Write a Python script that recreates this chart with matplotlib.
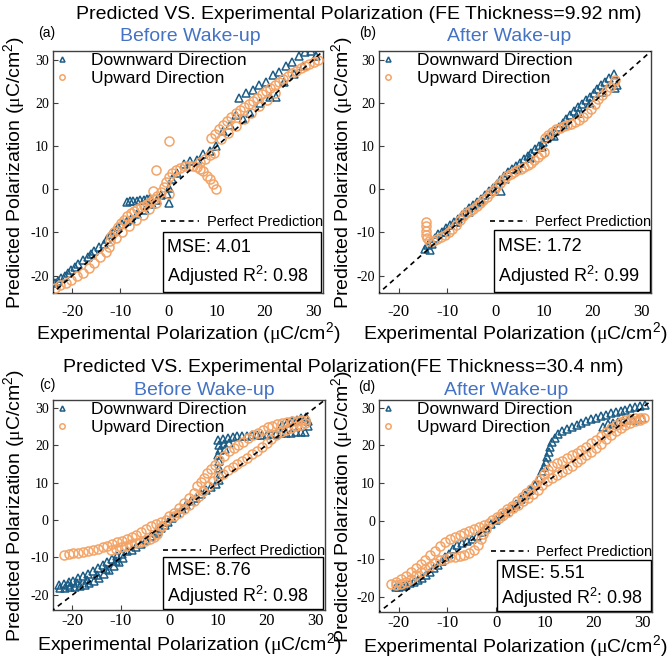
import matplotlib
matplotlib.use('Agg')
import matplotlib.pyplot as plt
from matplotlib.patches import Rectangle

plt.rcParams['font.family'] = ['Liberation Sans', 'DejaVu Sans']
plt.rcParams['mathtext.fontset'] = 'custom'
plt.rcParams['mathtext.rm'] = 'Liberation Sans'
plt.rcParams['mathtext.it'] = 'Liberation Sans:italic'
plt.rcParams['mathtext.sf'] = 'Liberation Serif'
plt.rcParams['axes.unicode_minus'] = False

# ============================================================
# Data, experimental vs predicted (uC/cm^2)
# ============================================================

# (a) 9.92 nm, before wake-up
a_down_x = [29.5, 28.4, 27.0, 25.7, 24.3, 22.9, 21.6, 20.2, 18.8, 17.5, 16.1, 14.7,
            30.5, 28.0, 26.0, 24.0, 22.3, 21.0, 19.0, 17.0, 15.5, 14.0, 12.7, 11.3,
            9.9, 8.6, 7.2, 5.8, 4.5, 3.1, 1.7, 0.7, 0.0, -0.3, 0.0,
            -3.8, -4.5, -5.2, -5.9, -6.6, -7.3, -8.0, -8.7,
            -1.5, -2.5, -3.5,
            -5.0, -6.5, -7.8, -8.6, -9.6, -10.6, -11.3, -12.0, -12.7, -13.4, -14.4, -15.4,
            -16.1, -16.8, -17.8, -18.8, -19.5, -20.2, -20.9, -21.6, -22.3, -22.9, -23.5]
a_down_y = [32.0, 31.9, 30.8, 29.6, 28.5, 27.3, 26.5, 25.0, 24.2, 23.1, 22.3, 21.2,
            30.8, 28.6, 26.7, 24.8, 21.5, 21.4, 20.0, 17.8, 16.2, 17.3, 15.0, 13.5,
            10.0, 8.8, 8.1, 6.9, 6.5, 5.8, 3.8, 2.3, 0.4, -1.2, -3.1,
            -2.0, -2.3, -2.4, -2.5, -2.6, -2.7, -2.8, -2.9,
            -1.4, -2.4, -3.4,
            -4.8, -5.8, -6.8, -7.3, -8.1, -8.8, -9.6, -10.4, -11.6, -12.7, -13.3, -14.2,
            -15.0, -15.8, -16.5, -17.3, -18.0, -18.8, -19.3, -20.0, -20.6, -21.2, -21.8]
a_up_x = [-23.5, -22.5, -21.3, -20.2, -19.0, -17.8, -16.6, -15.4, -14.2, -13.0, -12.3,
          -12.2, -12.0,
          -11.4, -10.6, -9.9, -9.2, -8.6, -7.9, -7.2, -6.5, -5.8, -5.1, -4.5, -3.8, -3.1, -2.4,
          -11.0, -9.6, -8.2, -6.8, -5.4, -4.0, -2.6,
          -1.5, -1.0, -0.5, 0.1, 0.8, 1.6, 2.4, 3.3, 4.2, 5.1, 5.9, 6.6, 7.2, 7.9, 8.6, 9.3, 9.9,
          6.6, 7.6, 8.6, 9.4,
          0.0, -2.6, -3.2, 0.1,
          8.9, 9.7, 10.5, 11.3, 12.1, 13.0, 13.9, 14.8, 15.7, 16.6, 17.5, 18.4, 19.3, 20.2,
          21.1, 22.0, 22.9, 23.8, 24.7, 25.6, 26.5, 27.4, 28.3, 29.2, 30.1, 31.0,
          10.8, 12.4, 14.0, 15.6, 17.2, 18.8, 20.4, 22.0]
a_up_y = [-23.0, -22.3, -21.7, -21.1, -20.2, -19.4, -18.3, -17.0, -15.8, -14.6, -13.3,
          -12.0, -10.8,
          -10.0, -8.8, -7.9, -7.0, -6.2, -5.5, -5.0, -4.6, -4.2, -3.9, -3.5, -2.9, -2.3, -1.5,
          -11.2, -9.9, -8.5, -7.1, -5.9, -4.6, -3.2,
          -0.6, 0.6, 1.8, 2.9, 3.8, 4.5, 5.0, 5.3, 5.4, 5.4, 5.2, 4.8, 4.2, 3.2, 2.3, 1.2, 0.1,
          6.4, 7.1, 7.9, 8.5,
          11.2, 4.4, -0.5, -1.2,
          11.9, 12.8, 14.0, 15.0, 15.9, 16.8, 17.6, 18.4, 19.1, 19.8, 20.5, 21.2, 22.0, 22.7,
          23.4, 24.1, 24.8, 25.5, 26.2, 26.9, 27.5, 28.1, 28.6, 29.1, 29.6, 30.0,
          11.6, 13.0, 14.6, 16.2, 17.7, 19.3, 20.8, 22.4]

# (b) 9.92 nm, after wake-up
b_down_x = [-14.6, -14.0, -13.3, -12.5, -11.8, -11.0, -10.2, -9.4, -8.6, -7.8, -7.0, -6.2,
            -5.4, -4.6, -3.8, -3.0, -2.2, -1.4, -0.6, 0.2, 1.0, 1.8, 2.6, 3.4, 4.2, 5.0,
            5.8, 6.6, 7.4, 8.2, 9.0, 9.8, 10.6, 11.4, 12.2, 13.0, 13.8, 14.6, 15.4, 16.2,
            17.0, 17.8, 18.6, 19.4, 20.2, 21.0, 21.8, 22.6, 23.4, 24.3, 25.0, 24.6, 1.2, -13.6,
            -13.0, -10.5, -8.0, -5.5, -3.0, -0.5, 2.0, 4.5, 7.0, 9.5, 12.0, 14.5, 17.0, 19.5, 22.0]
b_down_y = [-13.9, -12.9, -12.0, -11.2, -10.4, -9.8, -9.0, -8.3, -7.5, -6.8, -6.0, -5.2,
            -4.4, -3.7, -3.0, -2.2, -1.3, -0.5, 0.4, 1.3, 2.2, 3.1, 4.0, 4.8, 5.5, 6.2,
            7.0, 7.7, 8.5, 9.3, 10.1, 10.9, 11.8, 12.7, 13.6, 14.5, 15.4, 16.3, 17.2, 18.1,
            19.0, 19.8, 20.7, 21.5, 22.4, 23.2, 24.1, 24.9, 25.8, 26.7, 24.3, 23.5, -0.5, -14.1,
            -12.6, -10.0, -7.6, -5.2, -2.8, -0.3, 2.3, 4.7, 7.3, 9.8, 12.4, 14.9, 17.6, 20.1, 22.6]
b_up_x = [-14.4, -14.4, -14.4, -14.3, -14.2, -13.7, -12.9, -12.1, -11.3, -10.5, -9.7, -8.9,
          -8.1, -7.4, -6.7, -6.0, -5.3, -4.6, -3.9, -3.2, -2.5, -1.8, -1.1, -0.4, 0.3, 1.0,
          1.7, 2.4, 3.1, 3.8, 4.5, 5.2, 5.9, 6.6, 7.3, 8.0, 8.7, 9.4, 9.9,
          10.2, 10.9, 11.6, 12.4, 13.2, 14.0, 14.8, 15.6, 16.4, 17.2, 18.0, 18.8, 19.6,
          20.4, 21.2, 22.0, 22.8, 23.6, 24.3, 24.7]
b_up_y = [-7.6, -8.6, -9.6, -10.6, -11.4, -12.0, -12.0, -11.6, -11.1, -10.6, -10.0, -9.2,
          -8.2, -7.2, -6.3, -5.5, -5.0, -4.5, -3.9, -3.2, -2.5, -1.7, -0.9, -0.1, 0.7, 1.5,
          2.3, 3.0, 3.6, 4.1, 4.5, 4.8, 5.1, 5.6, 6.2, 6.9, 7.6, 8.2, 8.6,
          11.8, 12.6, 13.3, 13.9, 14.3, 14.6, 14.9, 15.2, 15.6, 16.1, 16.8, 17.7, 18.7,
          19.8, 20.9, 21.9, 22.9, 23.8, 24.6, 25.3]

# (c) 30.4 nm, before wake-up
c_down_x = [-22.8, -21.8, -20.8, -19.8, -18.8, -17.8, -16.8, -15.8, -14.8, -13.8, -12.8,
            -11.8, -10.8, -9.8, -8.8, -7.8,
            -22.5, -21.5, -20.5, -19.5, -18.5, -17.5, -16.5, -15.5, -14.5, -13.5, -12.5,
            -11.5, -10.5, -9.5,
            -21.0, -19.0, -17.0, -15.0, -13.0, -11.0,
            -6.8, -5.8, -4.8, -3.8, -2.8, -2.4, -1.7, -1.0, -0.3,
            0.5, 1.5, 2.5, 3.5, 4.5, 5.5, 6.5, 7.5, 8.5, 9.5, 10.2,
            10.4, 10.3, 10.2, 10.1,
            10.0, 11.0, 12.0, 13.0, 14.0, 10.2, 11.2, 12.2, 10.4, 11.4,
            15.0, 16.0, 17.0, 18.0, 19.0, 20.0, 21.0, 22.0, 23.0, 24.0, 25.0, 26.0, 27.0,
            28.0, 28.6, 28.6, 28.2, 27.2, 26.2, 25.2, 24.2, 23.2]
c_down_y = [-17.3, -17.0, -16.6, -16.2, -15.6, -15.0, -14.3, -13.6, -12.8, -12.0, -11.2,
            -10.4, -9.7, -9.0, -8.4, -7.9,
            -18.2, -18.1, -18.0, -17.8, -17.6, -17.3, -16.9, -16.3, -15.4, -14.5, -13.4,
            -12.2, -11.2, -10.2,
            -17.4, -16.8, -15.9, -14.6, -13.0, -11.0,
            -7.2, -6.3, -5.3, -4.3, -3.4, -3.0, -2.1, -1.4, -0.6,
            0.6, 1.8, 3.0, 4.0, 5.0, 6.0, 7.0, 8.0, 8.8, 9.6, 10.6,
            12.2, 14.0, 15.8, 17.4,
            21.4, 21.7, 21.9, 22.1, 22.3, 19.9, 20.2, 20.5, 18.6, 19.0,
            22.4, 22.5, 22.6, 22.7, 22.8, 22.8, 22.9, 23.0, 23.1, 23.2, 23.3, 23.4, 23.5,
            23.5, 25.0, 26.5, 27.5, 27.2, 26.8, 26.3, 25.8, 25.3]
c_up_x = [-21.8, -20.8, -19.8, -18.8, -17.8, -16.8, -15.8, -14.8, -13.8, -12.8, -11.8,
          -10.8, -9.8, -8.8, -7.8, -6.8, -5.8, -4.8, -3.8, -2.8, -1.8, -0.8,
          -12.0, -11.0, -10.0, -9.0, -8.0, -7.0, -6.0, -5.0, -4.0, -3.2, -2.6, -2.1, -1.6,
          0.0, 1.0, 2.0, 3.0, 4.0, 5.0, 5.7, 6.4, 7.1, 7.8, 8.5, 9.3, 10.2, 11.2, 12.2,
          13.2, 14.2, 15.2, 16.2, 17.2, 18.2, 19.2, 20.2, 21.2, 22.2, 23.2, 24.2, 25.2,
          26.2, 27.2, 28.0,
          28.0, 27.0, 26.0, 25.0, 24.0, 23.0, 22.0, 21.0, 20.0, 19.0, 18.0, 17.0, 16.0,
          15.0, 14.0, 13.0, 12.0, 11.0, 10.0, 9.0, 8.0, 7.0, 6.0, 5.0, 4.0, 3.0, 2.0, 1.0]
c_up_y = [-9.3, -9.1, -8.9, -8.7, -8.5, -8.2, -8.0, -7.7, -7.3, -6.9, -6.5,
          -6.0, -5.5, -5.0, -4.5, -3.9, -3.2, -2.5, -1.7, -1.1, -0.5, 0.1,
          -8.0, -7.7, -7.3, -6.9, -6.5, -6.1, -5.8, -5.5, -5.2, -4.6, -3.6, -2.5, -1.5,
          1.0, 2.0, 3.3, 4.5, 5.8, 7.3, 9.1, 10.1, 11.3, 12.5, 13.6, 14.8, 15.9, 17.2, 18.4,
          19.3, 20.1, 20.9, 21.8, 22.6, 23.3, 24.0, 24.7, 25.2, 25.6, 25.9, 26.1, 26.3,
          26.5, 26.6, 26.7,
          25.8, 25.4, 25.0, 24.6, 24.1, 23.4, 22.6, 21.6, 20.6, 19.5, 18.5, 17.5, 16.6,
          15.7, 14.9, 14.1, 13.3, 12.4, 11.5, 10.3, 9.0, 7.7, 6.4, 5.2, 4.1, 3.0, 2.0, 1.0]

# (d) 30.4 nm, after wake-up
d_down_x = [30.5, 29.5, 28.5, 27.5, 26.5, 25.5, 24.5, 23.5, 22.5, 21.5, 20.5, 19.5, 18.5,
            17.5, 16.5, 15.5, 14.5, 13.5, 12.7, 12.0, 11.5, 11.1, 10.8, 10.5, 10.2, 9.8, 9.4,
            30.0, 29.0, 28.0, 27.0, 26.0, 25.0, 24.0, 23.0, 22.0,
            8.8, 8.0, 7.0, 6.0, 5.0, 4.0, 3.0, 2.0, 1.0, 0.0, -1.0, -2.0, -3.0, -4.0, -5.0,
            -6.0, -7.0, -8.0, -8.8, -9.6, -10.4, -11.2, -12.0, -12.8, -13.6, -14.4, -15.2,
            -16.0, -16.8, -17.6, -18.4, -19.2, -20.0, -20.6]
d_down_y = [30.6, 30.4, 30.1, 29.8, 29.5, 29.2, 28.8, 28.5, 28.1, 27.7, 27.3, 26.9, 26.5,
            26.0, 25.5, 25.0, 24.4, 23.8, 23.0, 22.0, 20.8, 19.5, 18.2, 17.0, 15.7, 14.4, 13.2,
            27.2, 27.0, 26.8, 26.6, 26.4, 26.2, 26.0, 25.6, 25.0,
            11.5, 9.6, 8.2, 7.0, 5.8, 4.6, 3.5, 2.4, 1.3, 0.3, -0.8, -1.8, -2.8, -3.8, -4.7,
            -5.3, -5.7, -6.2, -7.4, -8.6, -9.6, -10.6, -11.6, -12.5, -13.4, -14.2, -14.9,
            -15.5, -16.0, -16.4, -16.8, -17.1, -17.3, -17.4]
d_up_x = [-21.5, -20.5, -19.5, -18.5, -17.5, -16.5, -15.5, -14.5, -13.5, -12.5, -11.5,
          -10.5, -9.5, -8.5, -7.5, -6.5, -5.5, -4.5, -3.5, -2.5, -1.5,
          -20.5, -19.5, -18.5, -17.5, -16.5, -15.5, -14.5, -13.5, -12.5, -11.5, -10.5,
          -9.5, -8.5, -7.5, -6.5, -5.5, -4.5, -3.8, -3.2, -2.6, -2.0,
          -0.8, 0.2, 1.2, 2.2, 3.2, 4.2, 5.2, 6.2, 7.2, 8.2, 9.0, 9.8, 10.6, 11.5, 12.5,
          13.5, 14.5, 15.5, 16.5, 17.5, 18.5, 19.5, 20.5, 21.5, 22.5, 23.5, 24.5, 25.5,
          26.5, 27.5, 28.5, 29.5, 30.3,
          29.5, 28.5, 27.5, 26.5, 25.5, 24.5, 23.5, 22.5, 21.5, 20.5, 19.5, 18.5, 17.5,
          16.5, 15.5, 14.5, 13.5, 12.5, 11.5, 10.5, 9.5, 8.5, 7.5, 6.5, 5.5, 4.5, 3.5,
          2.5, 1.5, 0.5]
d_up_y = [-16.6, -16.0, -15.2, -14.4, -13.5, -12.5, -11.4, -10.2, -9.0, -7.8, -6.6,
          -5.5, -4.7, -4.1, -3.6, -3.2, -2.7, -2.2, -1.6, -1.0, -0.4,
          -16.9, -16.5, -16.0, -15.2, -14.3, -13.5, -12.7, -11.9, -11.1, -10.4, -9.9,
          -9.6, -9.4, -9.3, -9.0, -8.5, -7.5, -6.2, -4.8, -3.4, -2.2,
          0.3, 1.1, 2.1, 3.1, 4.1, 5.2, 6.3, 7.4, 8.6, 9.9, 11.2, 12.5, 13.6, 14.5, 15.3,
          16.0, 16.7, 17.4, 18.1, 18.9, 19.7, 20.6, 21.5, 22.5, 23.6, 24.6, 25.5, 26.2,
          26.7, 27.0, 27.2, 27.3, 27.3,
          26.6, 26.4, 26.0, 25.4, 24.6, 23.7, 22.7, 21.6, 20.5, 19.4, 18.4, 17.4, 16.5,
          15.6, 14.7, 13.9, 13.1, 12.3, 11.4, 10.5, 9.5, 8.3, 7.2, 6.1, 5.2, 4.3, 3.4,
          2.5, 1.6, 0.7]

panel_tags = ['(a)', '(b)', '(c)', '(d)']
subtitles = ['Before Wake-up', 'After Wake-up', 'Before Wake-up', 'After Wake-up']
mse_vals = ['4.01', '1.72', '8.76', '5.51']
r2_vals = ['0.98', '0.99', '0.98', '0.98']
row_titles = ['Predicted VS. Experimental Polarization (FE Thickness=9.92 nm)',
              'Predicted VS. Experimental Polarization(FE Thickness=30.4 nm)']

BLUE = '#1c5d86'
ORANGE = '#f4a466'
SUB_BLUE = '#4472c4'

# ============================================================
# Figure
# ============================================================
fig = plt.figure(figsize=(6.71, 6.58), dpi=100)

axes_pos = [[0.079, 0.555, 0.402, 0.367],
            [0.565, 0.555, 0.405, 0.367],
            [0.079, 0.073, 0.405, 0.319],
            [0.565, 0.070, 0.407, 0.322]]
series = [(a_down_x, a_down_y, a_up_x, a_up_y),
          (b_down_x, b_down_y, b_up_x, b_up_y),
          (c_down_x, c_down_y, c_up_x, c_up_y),
          (d_down_x, d_down_y, d_up_x, d_up_y)]
box_x0 = [0.407, 0.423, 0.404, 0.43]
box_h = [0.248, 0.256, 0.248, 0.24]
pp_y = [0.293, 0.293, 0.281, 0.283]
tag_pos = [(0.070, 0.950), (0.548, 0.950), (0.070, 0.415), (0.547, 0.412)]
sub_pos = [(0.283, 0.944), (0.759, 0.944), (0.304, 0.407), (0.754, 0.407)]

unit = r'$(\mathsf{\mu}\mathrm{C/cm^{2}})$'
xlab = 'Experimental Polarization ' + unit
ylab = 'Predicted Polarization ' + unit

for i in range(4):
    ax = fig.add_axes(axes_pos[i])
    dx, dy, ux, uy = series[i]
    h1, = ax.plot(dx, dy, ls='none', marker='^', ms=6, mfc='none', mec=BLUE,
                  mew=1.1, label='Downward Direction', zorder=2)
    h2, = ax.plot(ux, uy, ls='none', marker='o', ms=6.5, mfc='none', mec=ORANGE,
                  mew=1.1, label='Upward Direction', zorder=3)
    h3, = ax.plot([-26, 34], [-26, 34], color='black', ls=(0, (3, 2.5)), lw=1.2,
                  label='Perfect Prediction', zorder=4)

    ax.set_xlim(-24, 32)
    ax.set_ylim(-24, 32)
    ax.set_xticks([-20, -10, 0, 10, 20, 30])
    ax.set_yticks([-20, -10, 0, 10, 20, 30])
    ax.tick_params(direction='in', length=3.5, width=0.8, color='#404040')
    ax.tick_params(axis='x', labelsize=12, pad=8 if i < 2 else 2)
    ax.tick_params(axis='y', labelsize=10, pad=3)
    for lab in ax.get_xticklabels() + ax.get_yticklabels():
        lab.set_fontfamily('Liberation Serif')
    for sp in ax.spines.values():
        sp.set_color('#404040')
        sp.set_linewidth(1.0)

    ax.set_xlabel(xlab, fontsize=14)
    ax.set_ylabel(ylab, fontsize=14)
    ax.xaxis.set_label_coords(0.5, -0.112 if i < 2 else -0.1)
    ax.yaxis.set_label_coords(-0.096 if i % 2 == 0 else -0.088, 0.5)

    leg1 = ax.legend(handles=[h1, h2], loc='upper left', bbox_to_anchor=(0.0, 1.0),
                     frameon=False, fontsize=12.5, handlelength=0.8, handletextpad=1.3,
                     borderaxespad=0, borderpad=0.1, labelspacing=0.15, markerscale=0.6)
    ax.add_artist(leg1)
    ax.legend(handles=[h3], loc='center right', bbox_to_anchor=(1.0, pp_y[i]),
              frameon=False, fontsize=10.5, handlelength=2.6, handletextpad=0.5,
              borderaxespad=0, borderpad=0)

    ax.add_patch(Rectangle((box_x0[i], 0.004), 0.995 - box_x0[i], box_h[i],
                           transform=ax.transAxes, facecolor='white', edgecolor='black',
                           lw=1.0, zorder=5))
    ax.text(box_x0[i] + 0.015, 0.004 + box_h[i] * 0.74, 'MSE: ' + mse_vals[i],
            transform=ax.transAxes, fontsize=13, ha='left', va='center', zorder=6)
    ax.text(box_x0[i] + 0.015, 0.004 + box_h[i] * 0.26, r'Adjusted R$^{2}$: ' + r2_vals[i],
            transform=ax.transAxes, fontsize=13, ha='left', va='center', zorder=6)

    fig.text(tag_pos[i][0], tag_pos[i][1], panel_tags[i], fontsize=10, ha='center', va='center')
    fig.text(sub_pos[i][0], sub_pos[i][1], subtitles[i], fontsize=14, color=SUB_BLUE,
             ha='center', va='center')

fig.text(0.535, 0.978, row_titles[0], fontsize=14, ha='center', va='center')
fig.text(0.511, 0.441, row_titles[1], fontsize=14, ha='center', va='center')

plt.savefig('out.png', dpi=100)
